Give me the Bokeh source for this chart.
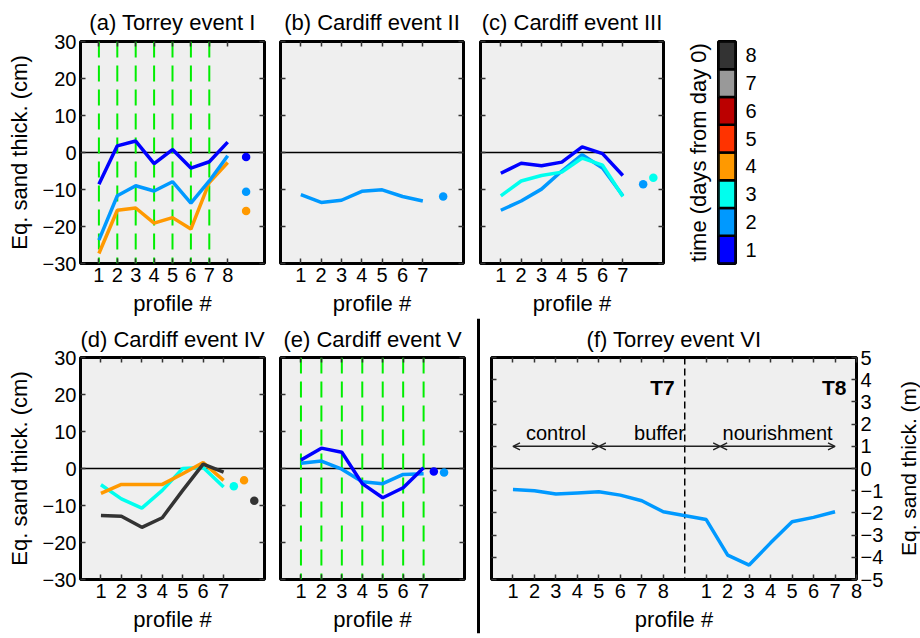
from bokeh.core.properties import value
from bokeh.embed import file_html
from bokeh.layouts import column, row
from bokeh.models import Arrow, ColumnDataSource, FixedTicker, LinearAxis, OpenHead, Range1d, Span
from bokeh.plotting import figure
from bokeh.resources import INLINE

# ---------------------------------------------------------------- data
DAYS = [1, 2, 3, 4, 5, 6, 7, 8]
DAY_COLORS = ["#0000ff", "#0099ff", "#00ffee", "#ff9900",
              "#ff3300", "#bb0000", "#999999", "#333333"]

# (a) Torrey event I -- equivalent sand thickness change (cm) per profile
A_PROFILES = [1, 2, 3, 4, 5, 6, 7, 8]
A_DAY1 = [-8.6, 1.8, 3.1, -3.0, 0.8, -4.2, -2.5, 2.8]
A_DAY2 = [-23.7, -11.7, -9.0, -10.4, -7.9, -13.7, -7.7, -0.9]
A_DAY4 = [-27.3, -15.6, -15.0, -19.1, -17.6, -20.7, -8.1, -2.7]
A_MEAN_DAYS = [1, 2, 4]
A_MEANS = [-1.2, -10.6, -15.8]
A_MEAN_X = [9, 9, 9]
A_DASHED_PROFILES = [1, 2, 3, 4, 5, 6, 7]

# (b) Cardiff event II
B_PROFILES = [1, 2, 3, 4, 5, 6, 7]
B_DAY2 = [-11.4, -13.5, -12.9, -10.5, -10.1, -11.9, -13.1]
B_MEAN_DAYS = [2]
B_MEANS = [-11.9]
B_MEAN_X = [8]

# (c) Cardiff event III
C_PROFILES = [1, 2, 3, 4, 5, 6, 7]
C_DAY1 = [-5.6, -2.9, -3.6, -2.6, 1.5, -0.3, -6.2]
C_DAY2 = [-15.6, -13.1, -9.9, -5.0, -0.6, -4.2, -11.7]
C_DAY3 = [-11.7, -7.7, -6.2, -5.3, -1.5, -3.4, -11.9]
C_MEAN_DAYS = [2, 3]
C_MEANS = [-8.6, -6.8]
C_MEAN_X = [8, 8.5]

# (d) Cardiff event IV
D_PROFILES = [1, 2, 3, 4, 5, 6, 7]
D_DAY3 = [-4.4, -8.2, -10.7, -5.9, 0.0, 0.3, -5.0]
D_DAY4 = [-6.7, -4.3, -4.3, -4.3, -1.4, 1.6, -3.2]
D_DAY8 = [-12.7, -12.9, -15.9, -13.3, -5.9, 1.2, -1.0]
D_MEAN_DAYS = [3, 4, 8]
D_MEANS = [-4.8, -3.2, -8.7]
D_MEAN_X = [7.5, 8, 8.5]

# (e) Cardiff event V
E_PROFILES = [1, 2, 3, 4, 5, 6, 7]
E_DAY1 = [2.3, 5.5, 4.4, -4.1, -7.9, -5.2, 0.2]
E_DAY2 = [1.4, 2.0, -0.2, -3.6, -4.1, -1.6, -1.4]
E_MEAN_DAYS = [1, 2]
E_MEANS = [-0.8, -1.1]
E_MEAN_X = [7.5, 8]
E_DASHED_PROFILES = [1, 2, 3, 4, 5, 6, 7]

# (f) Torrey event VI -- thickness change (m), transects T7 and T8
T7_PROFILES = [1, 2, 3, 4, 5, 6, 7, 8]
T7_VALUES = [-0.95, -1.0, -1.15, -1.1, -1.05, -1.2, -1.45, -1.95]
T8_PROFILES = [1, 2, 3, 4, 5, 6, 7]
T8_VALUES = [-2.3, -3.9, -4.35, -3.35, -2.4, -2.2, -1.95]
T8_TICK_PROFILES = [1, 2, 3, 4, 5, 6, 7, 8]
T8_SHIFT = 9                       # T8 profiles are drawn to the right of T7
SECTION_NAMES = ["control", "buffer", "nourishment"]
SECTION_START = [1, 5, 10.65]
SECTION_END = [5, 10.65, 16]
SECTION_Y = 1

# ---------------------------------------------------------------- style
FONT = "Liberation Sans"
TICK_PX = "20px"
LABEL_PX = "22px"
FRAME_BG = "#efefef"
CM_TICKS = [-30, -20, -10, 0, 10, 20, 30]
M_TICKS = [-5, -4, -3, -2, -1, 0, 1, 2, 3, 4, 5]


def fmt(v):
    return ("%g" % v).replace("-", "\u2212")


def add_axis(p, side, ticks, labels=None, title=None, standoff=4, tick_len=5,
             label_standoff=6, label_size=LABEL_PX):
    ax = LinearAxis(ticker=FixedTicker(ticks=ticks, minor_ticks=[]))
    ax.axis_line_color = None
    ax.major_tick_in = tick_len
    ax.major_tick_out = 0
    ax.major_tick_line_color = "#333333" if tick_len else None
    ax.major_tick_line_width = 1.5
    ax.minor_tick_line_color = None
    if labels is None:
        ax.major_label_text_font_size = "0px"
        ax.major_label_standoff = 0
        ax.major_label_text_color = None
    else:
        ax.major_label_overrides = {t: l for t, l in zip(ticks, labels)}
        ax.major_label_text_font = FONT
        ax.major_label_text_font_size = TICK_PX
        ax.major_label_text_color = "black"
        ax.major_label_standoff = standoff
    if title:
        ax.axis_label = title
        ax.axis_label_text_font = FONT
        ax.axis_label_text_font_size = label_size
        ax.axis_label_text_font_style = "normal"
        ax.axis_label_text_color = "black"
        ax.axis_label_standoff = label_standoff
    p.add_layout(ax, side)
    return ax


def bare_figure(width, height, xr, yr, borders):
    bl, br, bt, bb = borders
    p = figure(width=width, height=height,
               x_range=Range1d(*xr), y_range=Range1d(*yr),
               output_backend="svg", toolbar_location=None,
               x_axis_location=None, y_axis_location=None,
               min_border_left=bl, min_border_right=br,
               min_border_top=bt, min_border_bottom=bb)
    p.xgrid.visible = False
    p.ygrid.visible = False
    p.border_fill_color = "white"
    p.background_fill_color = "white"
    p.outline_line_color = None
    return p


def make_panel(title, width, height, xr, yr, borders, title_gap):
    p = bare_figure(width, height, xr, yr, borders)
    p.background_fill_color = FRAME_BG
    p.outline_line_color = "black"
    p.outline_line_width = 3
    p.title.text = title
    p.title.align = "center"
    p.title.text_font = FONT
    p.title.text_font_size = LABEL_PX
    p.title.text_font_style = "normal"
    p.title.text_color = "black"
    p.title.standoff = title_gap
    return p


def event_panel(title, width, height, borders, title_gap, x_end, profiles, series,
                mean_days, means, mean_x, dashed=None, ylabels=False):
    p = make_panel(title, width, height, (0, x_end), (-30, 30), borders, title_gap)
    p.add_layout(Span(location=0, dimension="width", line_color="black",
                      line_width=1.3, level="underlay"))
    for x in dashed or []:
        p.add_layout(Span(location=x, dimension="height", line_color="#00ee00",
                          line_width=2, line_dash="16 8", level="underlay"))
    for day, ys in series:
        p.line(profiles, ys, line_color=DAY_COLORS[day - 1], line_width=3.5)
    p.scatter(mean_x, means, size=8.5, line_color=None,
              fill_color=[DAY_COLORS[d - 1] for d in mean_days])
    add_axis(p, "below", profiles, [str(v) for v in profiles], "profile #")
    add_axis(p, "above", profiles)
    if ylabels:
        add_axis(p, "left", CM_TICKS, [fmt(v) for v in CM_TICKS], "Eq. sand thick. (cm)",
                 label_standoff=8)
    else:
        add_axis(p, "left", CM_TICKS)
    add_axis(p, "right", CM_TICKS)
    return p


# ---------------------------------------------------------------- top row
TOP_H = 318
TOP_B = (40, 55)            # top / bottom border of the top-row frames
pa = event_panel("(a) Torrey event I", 272, TOP_H, (80, 8) + TOP_B, 14, 10, A_PROFILES,
                 [(4, A_DAY4), (2, A_DAY2), (1, A_DAY1)],
                 A_MEAN_DAYS, A_MEANS, A_MEAN_X, dashed=A_DASHED_PROFILES, ylabels=True)
pb = event_panel("(b) Cardiff event II", 200, TOP_H, (8, 9) + TOP_B, 14, 9, B_PROFILES,
                 [(2, B_DAY2)], B_MEAN_DAYS, B_MEANS, B_MEAN_X)
pc = event_panel("(c) Cardiff event III", 200, TOP_H, (8, 9) + TOP_B, 14, 9, C_PROFILES,
                 [(2, C_DAY2), (3, C_DAY3), (1, C_DAY1)],
                 C_MEAN_DAYS, C_MEANS, C_MEAN_X)

# colour key for the days since day 0
cb = bare_figure(248, TOP_H, (0, 1), (0.5, 8.5), (46, 185) + TOP_B)
cb.outline_line_color = "black"
cb.outline_line_width = 3
cb.rect(x=0.5, y=DAYS, width=1, height=1, fill_color=DAY_COLORS,
        line_color="black", line_width=2.5)
add_axis(cb, "left", [], None, "time (days from day 0)", tick_len=0, label_standoff=8)
add_axis(cb, "right", DAYS, [str(d) for d in DAYS], standoff=10, tick_len=0)

# ---------------------------------------------------------------- bottom row
BOT_H = 320
BOT_B = (39, 59)
pd_ = event_panel("(d) Cardiff event IV", 272, BOT_H, (80, 8) + BOT_B, 12, 9, D_PROFILES,
                  [(3, D_DAY3), (4, D_DAY4), (8, D_DAY8)],
                  D_MEAN_DAYS, D_MEANS, D_MEAN_X, ylabels=True)
pe = event_panel("(e) Cardiff event V", 198, BOT_H, (8, 6) + BOT_B, 12, 9, E_PROFILES,
                 [(2, E_DAY2), (1, E_DAY1)], E_MEAN_DAYS, E_MEANS, E_MEAN_X,
                 dashed=E_DASHED_PROFILES)

# vertical rule separating the Cardiff panels from the Torrey VI panel
sep = bare_figure(16, BOT_H, (0, 1), (0, 1), (0, 0, 0, 5))
sep.frame_align = False
sep.title.visible = False
sep.add_layout(Span(location=0.5, dimension="height", line_color="black", line_width=3))

# (f) Torrey event VI
t8_x = [v + T8_SHIFT for v in T8_PROFILES]
t8_tick_x = [v + T8_SHIFT for v in T8_TICK_PROFILES]
boundary = (T7_PROFILES[-1] + T8_SHIFT + T8_TICK_PROFILES[0]) / 2
pf = make_panel("(f) Torrey event VI", 400, BOT_H, (0, t8_tick_x[-1]), (-5, 5),
                (5, 28) + BOT_B, 12)
pf.add_layout(Span(location=0, dimension="width", line_color="black",
                   line_width=1.3, level="underlay"))
pf.add_layout(Span(location=boundary, dimension="height", line_color="black",
                   line_width=1.5, line_dash="7 4", level="underlay"))
pf.line(T7_PROFILES + t8_x, T7_VALUES + T8_VALUES, line_color=DAY_COLORS[1], line_width=3.5)

arrow_src = ColumnDataSource(dict(x0=SECTION_START, x1=SECTION_END,
                                  y=[SECTION_Y] * len(SECTION_NAMES)))
pf.add_layout(Arrow(source=arrow_src, x_start="x0", y_start="y", x_end="x1", y_end="y",
                    line_color="#222222", line_width=1.5,
                    start=OpenHead(size=7, line_width=1.5, line_color="#222222"),
                    end=OpenHead(size=7, line_width=1.5, line_color="#222222")))
pf.text(x=[(s + e) / 2 for s, e in zip(SECTION_START, SECTION_END)],
        y=[SECTION_Y] * len(SECTION_NAMES), text=SECTION_NAMES,
        text_font=value(FONT), text_font_size="20px", text_color="black",
        text_align="center", text_baseline="bottom", y_offset=-2)
pf.text(x=[boundary, t8_tick_x[-1]], y=[3.65, 3.65], text=["T7", "T8"],
        text_font=value(FONT), text_font_size="21px", text_font_style="bold",
        text_color="black", text_align="right", text_baseline="alphabetic", x_offset=-10)

f_ticks = T7_PROFILES + t8_tick_x
f_labels = [str(v) for v in T7_PROFILES] + [str(v) for v in T8_TICK_PROFILES]
add_axis(pf, "below", f_ticks, f_labels, "profile #")
add_axis(pf, "above", f_ticks)
add_axis(pf, "left", M_TICKS)
add_axis(pf, "right", M_TICKS, [fmt(v) for v in M_TICKS])

# the metre-scale axis title, read bottom to top beside panel (f)
fl = bare_figure(34, BOT_H, (0, 1), (-5, 5), (33, 0) + BOT_B)
add_axis(fl, "left", [], None, "Eq. sand thick. (m)", tick_len=0, label_standoff=0,
         label_size="21px")

layout = column(row(pa, pb, pc, cb, spacing=0),
                row(pd_, pe, sep, pf, fl, spacing=0), spacing=0)

with open("out.html", "w") as fh:
    fh.write(file_html(layout, INLINE, title="Eq. sand thickness"))
